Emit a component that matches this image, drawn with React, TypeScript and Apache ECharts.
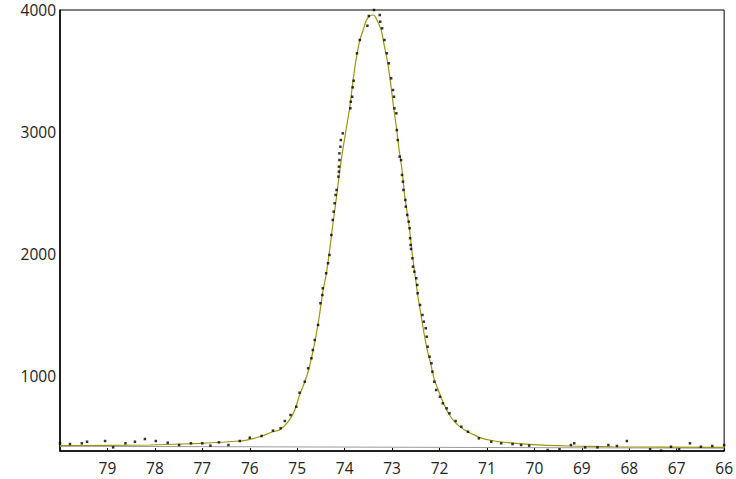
import React, { useEffect, useRef } from "react";
import * as echarts from "echarts";

// Measured points (x: position, y: counts)
const measuredX = [
  80.0, 79.79, 79.54, 79.43, 79.05, 78.88, 78.62, 78.42, 78.21, 77.98, 77.73, 77.49, 77.24, 77.0, 76.83, 76.65, 76.45, 76.21,
  76.0, 75.75, 75.51, 75.35, 75.26, 75.14, 75.02, 74.95, 74.84, 74.77, 74.7, 74.67, 74.63, 74.56, 74.51, 74.47, 74.46, 74.39,
  74.35, 74.32, 74.28, 74.25, 74.23, 74.21, 74.19, 74.17, 74.13, 74.12, 74.12, 74.11, 74.11, 74.09, 74.08, 74.04, 73.88, 73.87,
  73.84, 73.83, 73.81, 73.74, 73.68, 73.52, 73.49, 73.38,
  73.26, 73.25, 73.21, 73.16, 73.11, 73.07, 73.02, 72.98, 72.96, 72.95, 72.91, 72.9, 72.88, 72.84, 72.81, 72.79, 72.77, 72.76,
  72.72, 72.71, 72.68, 72.65, 72.63, 72.62, 72.61, 72.6, 72.57, 72.56, 72.53, 72.49, 72.47, 72.46, 72.41, 72.36, 72.33, 72.29,
  72.27, 72.25, 72.21, 72.17, 72.15, 72.11, 72.07, 71.99, 71.93, 71.85, 71.79, 71.66, 71.54, 71.4, 71.17,
  70.91, 70.7, 70.46, 70.28, 70.11, 69.72, 69.47, 69.23, 69.16, 68.93, 68.67, 68.44, 68.26, 68.05, 67.56, 67.33, 67.12, 66.95,
  66.72, 66.49, 66.25, 66.0,
];
const measuredY = [
  448, 442, 448, 461, 467, 415, 448, 461, 483, 467, 453, 434, 448, 448, 429, 456, 434, 467,
  494, 508, 552, 571, 631, 680, 748, 863, 953, 1063, 1145, 1213, 1295, 1418, 1596, 1664, 1719, 1842,
  1924, 1992, 2156, 2279, 2347, 2416, 2484, 2525, 2634, 2675, 2716, 2770, 2825, 2879, 2934, 2989, 3194, 3248,
  3289, 3366, 3420, 3645, 3754, 3871, 3951, 4000,
  3959, 3904, 3850, 3754, 3645, 3563, 3440, 3344, 3289, 3194, 3153, 3016, 2934, 2798, 2770, 2648, 2593, 2525,
  2443, 2388, 2320, 2265, 2211, 2129, 2074, 2041, 1965, 1896, 1855, 1801, 1746, 1678, 1582, 1500, 1445, 1391,
  1322, 1240, 1158, 1104, 1035, 953, 885, 830, 776, 735, 694, 631, 584, 543, 489,
  461, 448, 442, 434, 429, 393, 399, 434, 448, 415, 415, 434, 426, 467, 399, 388, 420, 399,
  448, 420, 426, 434,
];

// Fitted curve
const fitX = [
  80.0, 79.0, 78.11, 77.05, 76.21, 76.0, 75.79, 75.51, 75.37, 75.19, 75.05, 74.95, 74.84, 74.75, 74.67, 74.6, 74.53, 74.46,
  74.39, 74.32, 74.25, 74.16, 74.11, 74.04, 73.96, 73.89, 73.84, 73.77, 73.68, 73.61, 73.54, 73.47, 73.4, 73.35, 73.23,
  73.16, 73.09, 73.03, 72.97, 72.91, 72.86, 72.79, 72.74, 72.68, 72.63, 72.57, 72.52, 72.46, 72.39, 72.32, 72.25, 72.18,
  72.11, 72.04, 71.93, 71.79, 71.65, 71.47, 71.16, 70.95, 70.74, 70.11, 69.26, 68.36, 66.0,
];
const fitY = [
  429, 431, 434, 448, 467, 481, 502, 543, 557, 625, 721, 844, 953, 1063, 1199, 1336, 1500, 1691,
  1828, 2019, 2238, 2500, 2664, 2852, 3041, 3205, 3369, 3566, 3754, 3836, 3918, 3951, 3959, 3943, 3836,
  3699, 3563, 3399, 3207, 3043, 2879, 2688, 2497, 2334, 2197, 1981, 1840, 1664, 1500, 1336, 1200, 1090,
  970, 899, 789, 680, 612, 557, 497, 475, 461, 440, 426, 420, 415,
];

// Background line
const bgX = [80, 66];
const bgY = [424, 408];

const xTicks = [79, 78, 77, 76, 75, 74, 73, 72, 71, 70, 69, 68, 67, 66];
const yTicks = [1000, 2000, 3000, 4000];

export default function App() {
  const ref = useRef<HTMLDivElement>(null);
  useEffect(() => {
    if (!ref.current) return;
    const chart = echarts.init(ref.current, undefined, { renderer: "svg" });
    const font = "'Open Sans', 'Noto Sans', sans-serif";
    chart.setOption({
      animation: false,
      backgroundColor: "#ffffff",
      grid: {
        left: 60,
        top: 10,
        right: 11,
        bottom: 28,
        show: true,
        borderColor: "#000",
        borderWidth: 1,
      },
      xAxis: {
        type: "value",
        min: 66,
        max: 80,
        interval: 1,
        inverse: true,
        axisLine: { show: true, lineStyle: { color: "#000", width: 1.5 } },
        axisTick: { show: true, inside: true, length: 3, lineStyle: { color: "#000" }, customValues: xTicks },
        axisLabel: {
          customValues: xTicks,
          formatter: (v: number) => String(v),
          color: "#222",
          fontSize: 15.5,
          fontFamily: font,
          margin: 9,
        },
        splitLine: { show: false },
      },
      yAxis: {
        type: "value",
        min: 385,
        max: 4000,
        axisLine: { show: true, lineStyle: { color: "#000", width: 1.5 } },
        axisTick: { show: false },
        axisLabel: {
          customValues: yTicks,
          formatter: (v: number) => String(v),
          color: "#222",
          fontSize: 15.5,
          fontFamily: font,
          margin: 4,
        },
        splitLine: { show: false },
      },
      series: [
        {
          type: "line",
          data: bgX.map((x, i) => [x, bgY[i]]),
          showSymbol: false,
          lineStyle: { color: "#9a9a9a", width: 1 },
          z: 1,
        },
        {
          type: "line",
          data: fitX.map((x, i) => [x, fitY[i]]),
          showSymbol: false,
          smooth: 0.2,
          lineStyle: { color: "#9c960c", width: 1.2 },
          z: 2,
        },
        {
          type: "scatter",
          data: measuredX.map((x, i) => [x, measuredY[i]]),
          symbol: "rect",
          symbolSize: 2.5,
          itemStyle: { color: "#000" },
          z: 3,
        },
      ],
    });
    return () => chart.dispose();
  }, []);
  return <div ref={ref} style={{ width: 736, height: 479, position: "absolute", left: 0, top: 0 }} />;
}
